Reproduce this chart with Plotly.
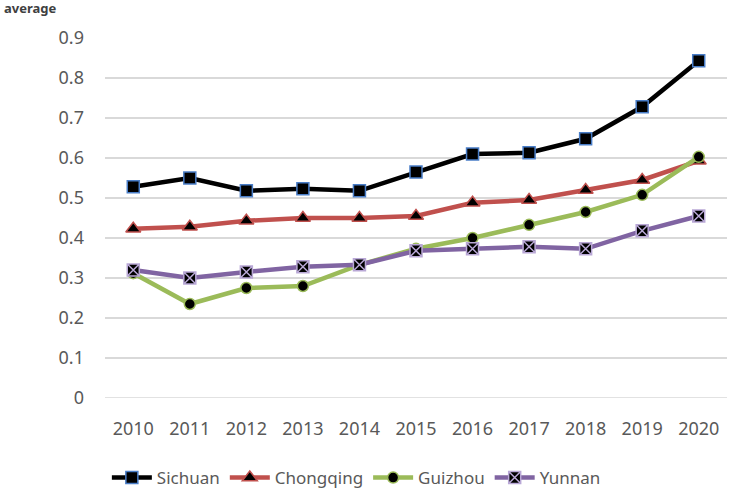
import plotly.graph_objects as go

years = [2010, 2011, 2012, 2013, 2014, 2015, 2016, 2017, 2018, 2019, 2020]
sichuan = [0.528, 0.550, 0.518, 0.523, 0.518, 0.565, 0.610, 0.613, 0.648, 0.728, 0.843]
chongqing = [0.423, 0.428, 0.443, 0.450, 0.450, 0.455, 0.488, 0.495, 0.520, 0.545, 0.593]
guizhou = [0.312, 0.235, 0.275, 0.280, 0.333, 0.373, 0.400, 0.433, 0.465, 0.508, 0.603]
yunnan = [0.320, 0.300, 0.315, 0.328, 0.333, 0.368, 0.373, 0.378, 0.373, 0.418, 0.455]
y_ticks = [0, 0.1, 0.2, 0.3, 0.4, 0.5, 0.6, 0.7, 0.8, 0.9]
y_labels = ["0", "0.1", "0.2", "0.3", "0.4", "0.5", "0.6", "0.7", "0.8", "0.9"]

series = [
    ("Sichuan", sichuan, "#000000", "square", "#000000", "#4A7EC8", 12),
    ("Chongqing", chongqing, "#C0504D", "triangle-up", "#000000", "#C0504D", 13),
    ("Guizhou", guizhou, "#9BBB59", "circle", "#000000", "#9BBB59", 11),
    ("Yunnan", yunnan, "#8064A2", "square-x", "#000000", "#B9A8D6", 12),
]

fig = go.Figure()
for name, vals, lc, sym, mc, mlc, ms in series:
    fig.add_trace(go.Scatter(
        x=years, y=vals, name=name, mode="lines+markers",
        line=dict(color=lc, width=4.5),
        marker=dict(symbol=sym, size=ms, color=mc, line=dict(color=mlc, width=1.5)),
    ))

fig.update_layout(
    width=733, height=494,
    margin=dict(l=105, r=6, t=38, b=96),
    paper_bgcolor="white", plot_bgcolor="white",
    font=dict(family="Noto Sans, Open Sans, sans-serif", color="#595959", size=18),
    showlegend=True,
    legend=dict(orientation="h", x=0.003, xanchor="left",
                yref="container", y=16 / 494, yanchor="middle",
                font=dict(size=17, color="#595959"), itemwidth=40, tracegroupgap=0),
    xaxis=dict(range=[2009.5, 2020.5], tickmode="array", tickvals=years,
               ticktext=[str(y) for y in years], showgrid=False, zeroline=False,
               showline=False, ticks="", ticklabelstandoff=18,
               tickfont=dict(size=18, color="#595959")),
    yaxis=dict(range=[0, 0.9], tickmode="array", tickvals=y_ticks, ticktext=y_labels,
               showgrid=True, gridcolor="#D9D9D9", gridwidth=1.5, zeroline=False,
               showline=False, ticks="", ticklabelstandoff=20,
               tickfont=dict(size=18, color="#595959")),
    annotations=[dict(text="<b>average</b>", x=0, xref="paper", y=1, yref="paper",
                      xshift=-103, yshift=30, xanchor="left", yanchor="middle",
                      showarrow=False, font=dict(size=13, color="#404040"))],
)
fig.add_shape(type="line", xref="paper", yref="y", x0=0, x1=1, y0=0, y1=0,
              line=dict(color="#D9D9D9", width=1.5), layer="below")

fig.write_html("out.html", config={"displayModeBar": False},
               post_script="document.body.style.margin='0';")
